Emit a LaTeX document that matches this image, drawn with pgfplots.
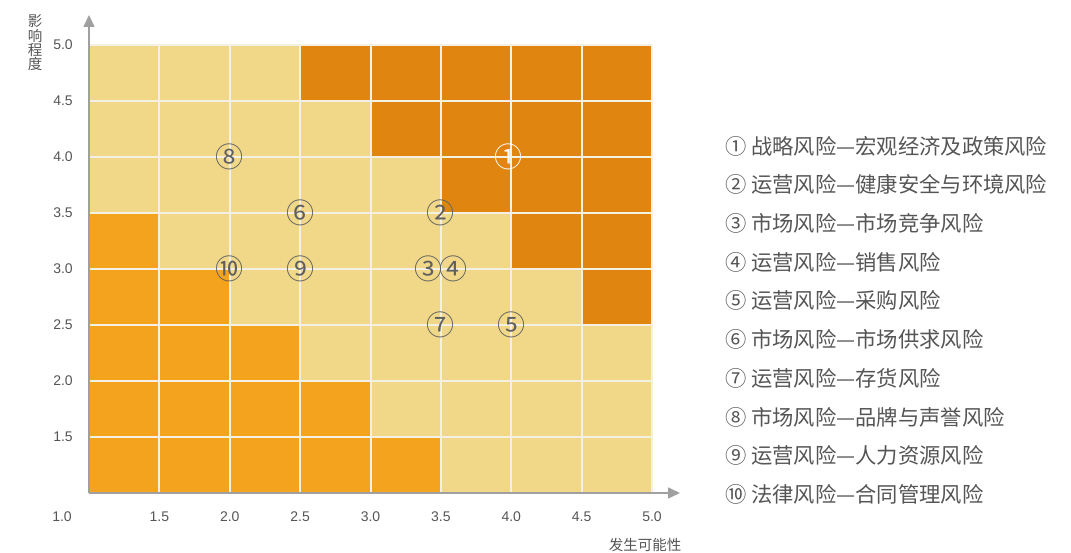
\documentclass[border=0pt]{standalone}
\usepackage{pgfplots}
\pgfplotsset{compat=1.18}
\usepackage{fontspec}
\setmainfont{Noto Sans CJK SC}
\newfontfamily\numfont{Liberation Sans}
\usetikzlibrary{arrows.meta}
\definecolor{cDark}{RGB}{224,134,16}
\definecolor{cOrange}{RGB}{243,163,29}
\definecolor{cLight}{RGB}{240,216,136}
\definecolor{cGrid}{RGB}{245,240,228}
\definecolor{cAxis}{RGB}{160,160,160}
\definecolor{cText}{RGB}{85,85,85}
\definecolor{cMark}{RGB}{95,95,95}
\begin{document}
\begin{tikzpicture}
\useasboundingbox (0,0) rectangle (1071pt,553pt);
\begin{axis}[
  at={(89pt,60pt)}, anchor=south west,
  scale only axis, width=563pt, height=448pt,
  xmin=1, xmax=5, ymin=1, ymax=5,
  axis lines=left,
  axis line style={draw=cAxis, line width=1.6pt},
  x axis line style={-{Triangle[length=12pt,width=11pt]}, shorten >=-28pt},
  y axis line style={-{Triangle[length=12pt,width=11pt]}, shorten >=-30pt},
  xtick={1.5,2,2.5,3,3.5,4,4.5,5}, ytick={1.5,2,2.5,3,3.5,4,4.5,5},
  xticklabels={1.5,2.0,2.5,3.0,3.5,4.0,4.5,5.0},
  yticklabels={1.5,2.0,2.5,3.0,3.5,4.0,4.5,5.0},
  grid=major, major grid style={draw=cGrid, line width=2pt},
  major tick length=0pt,
  axis on top,
  axis background/.style={fill=cLight},
  tick label style={font=\numfont\fontsize{14}{14}\selectfont, text=cText, inner sep=0pt},
  xticklabel style={anchor=center, yshift=-24pt},
  yticklabel style={anchor=center, xshift=-26pt},
  clip=false,
]
\addplot[fill=cOrange, draw=none] coordinates {
  (1,1) (3.5,1) (3.5,1.5) (3,1.5) (3,2) (2.5,2) (2.5,2.5) (2,2.5)
  (2,3) (1.5,3) (1.5,3.5) (1,3.5)} -- cycle;
\addplot[fill=cDark, draw=none] coordinates {
  (5,2.5) (5,5) (2.5,5) (2.5,4.5) (3,4.5) (3,4) (3.5,4) (3.5,3.5)
  (4,3.5) (4,3) (4.5,3) (4.5,2.5)} -- cycle;
\addplot[only marks, mark=none, point meta=explicit symbolic, nodes near coords,
  nodes near coords style={anchor=center, inner sep=0pt, text=cMark, font=\fontsize{28}{28}\selectfont}]
  table[meta=label] {
x y label
3.5 3.5 ②
3.41 3.0 ③
3.59 3.0 ④
4.0 2.5 ⑤
2.5 3.5 ⑥
3.5 2.5 ⑦
2.0 4.0 ⑧
2.5 3.0 ⑨
2.0 3.0 ⑩
};
\addplot[only marks, mark=none, point meta=explicit symbolic, nodes near coords,
  nodes near coords style={anchor=center, inner sep=0pt, text=white, font=\fontsize{28}{28}\selectfont}]
  table[meta=label] {
x y label
3.98 4.0 ①
};
\node[anchor=center, inner sep=0pt, text=cText, font=\numfont\fontsize{14}{14}\selectfont]
  at (axis cs:1,1) [xshift=-27pt, yshift=-24pt] {1.0};
\end{axis}
\node[anchor=center, inner sep=0pt, text=cText, font=\fontsize{14.5}{15}\selectfont] at (645pt,8pt) {发生可能性};
\node[anchor=center, inner sep=0pt, text=cText, align=center, font=\fontsize{14.5}{14.3}\selectfont] at (35pt,510pt) {影\\响\\程\\度};
\begin{scope}[every node/.style={anchor=west, inner sep=0pt, text=cText, font=\fontsize{21.3}{24}\selectfont}]
\node at (725pt,407pt) {① 战略风险—宏观经济及政策风险};
\node at (725pt,368.3pt) {② 运营风险—健康安全与环境风险};
\node at (725pt,329.6pt) {③ 市场风险—市场竞争风险};
\node at (725pt,290.9pt) {④ 运营风险—销售风险};
\node at (725pt,252.2pt) {⑤ 运营风险—采购风险};
\node at (725pt,213.5pt) {⑥ 市场风险—市场供求风险};
\node at (725pt,174.8pt) {⑦ 运营风险—存货风险};
\node at (725pt,136.1pt) {⑧ 市场风险—品牌与声誉风险};
\node at (725pt,97.4pt) {⑨ 运营风险—人力资源风险};
\node at (725pt,58.7pt) {⑩ 法律风险—合同管理风险};
\end{scope}
\end{tikzpicture}
\end{document}
